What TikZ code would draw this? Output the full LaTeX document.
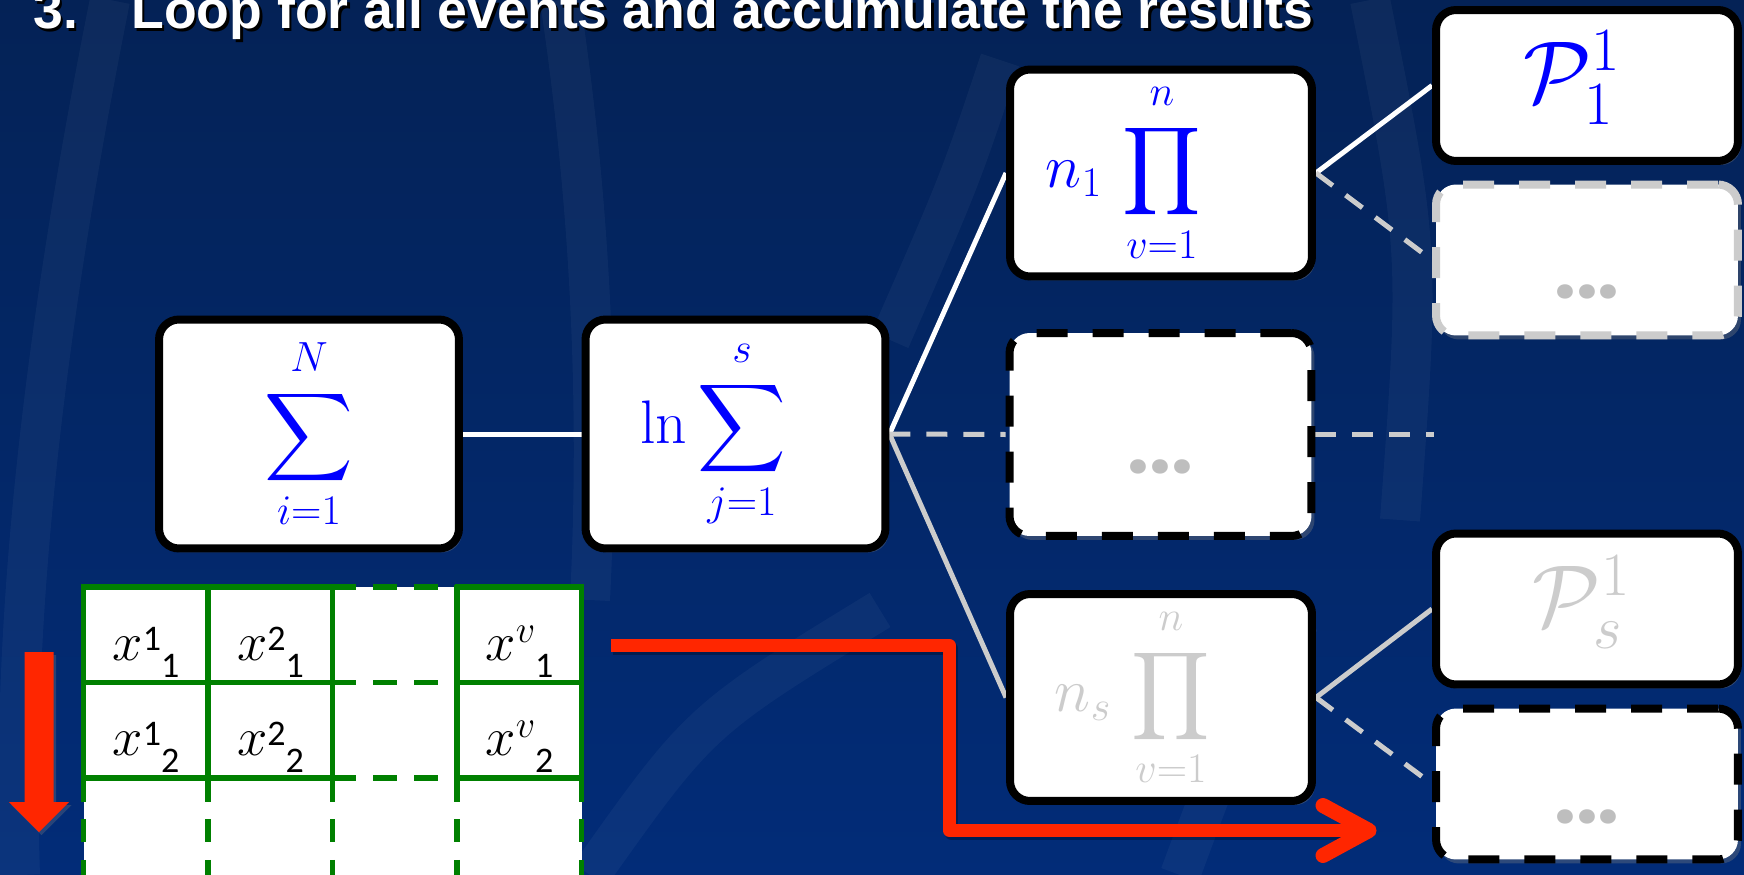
\documentclass[tikz,border=0pt]{standalone}
\usepackage{fix-cm}
\usepackage{exscale}
\DeclareFontShape{OMX}{cmex}{m}{n}{<-> cmex10}{}
\usepackage{fontspec}
\newfontfamily\titlefont{Liberation Sans}
\newfontfamily\dotfont{Poppins}
\newfontfamily\carlito{Carlito}
\usetikzlibrary{calc,shadows}
\DeclareMathSizes{35}{35}{24}{17}
\definecolor{bgtop}{RGB}{4,34,86}
\definecolor{bgbot}{RGB}{2,44,120}
\definecolor{mathblue}{RGB}{0,0,255}
\definecolor{fadegrey}{RGB}{204,204,204}
\definecolor{dotgrey}{RGB}{190,190,190}
\definecolor{tabgreen}{RGB}{0,128,0}
\definecolor{arrred}{RGB}{255,38,0}
\pgfdeclarelayer{bg}
\pgfdeclarelayer{lines}
\pgfsetlayers{bg,lines,main}
\newcommand\bigmath{\fontsize{35}{42}\selectfont}
\newcommand\hugemath{\fontsize{50}{58}\selectfont}
\newcommand\cellfont{\fontsize{31}{36}\selectfont}
\newcommand\digitfont{\carlito\fontsize{20.5}{24}\selectfont}
\newcommand\upl[1]{#1\rule[-0.2cm]{0pt}{0.2cm}}
\newcommand\shadowed[1]{\makebox[0pt][l]{\hspace{0.05cm}\raisebox{-0.05cm}{\color{black}#1}}#1}
\newcommand\xcell[2]{$x$\raisebox{0.2cm}{#1}\raisebox{-0.34cm}{\digitfont #2}}
\tikzset{
  procbox/.style={draw=black, fill=white, line width=0.16cm, rounded corners=0.4cm,
    minimum width=6.04cm, minimum height=4.14cm, inner sep=0pt, text=mathblue,
    font=\bigmath, drop shadow={shadow xshift=0.06cm, shadow yshift=-0.08cm, opacity=0.35}},
  leafbox/.style={procbox, minimum height=3.02cm, font=\hugemath},
  boxdash/.style={dash pattern=on 0.62cm off 0.5cm},
  conn/.style={line width=0.1cm, draw=white},
  connfaint/.style={line width=0.1cm, draw=fadegrey},
  conndash/.style={line width=0.1cm, draw=fadegrey, dash pattern=on 0.42cm off 0.32cm},
  dots/.style={text=dotgrey, font=\dotfont\bfseries\fontsize{44}{50}\selectfont, inner sep=0pt, anchor=base},
  titletext/.style={text=white, font=\titlefont\bfseries\fontsize{30.5}{36}\selectfont, inner sep=0pt, anchor=base west},
  gridsolid/.style={draw=tabgreen, line width=0.11cm},
  griddash/.style={draw=tabgreen, line width=0.11cm, dash pattern=on 0.47cm off 0.35cm},
  cell/.style={inner sep=0pt, anchor=base, font=\cellfont},
  redline/.style={draw=arrred, line width=0.26cm, line join=round},
  redhead/.style={draw=arrred, line width=0.3cm, line join=round, line cap=round},
  redshadow/.style={draw=black, opacity=0.3, line width=0.26cm, line join=round},
  band/.style={draw=white, opacity=0.04, line width=0.8cm}
}
\begin{document}
\begin{tikzpicture}[x=0.02cm,y=-0.02cm]
\useasboundingbox (0,0) rectangle (1744,875);
% background
\begin{pgfonlayer}{bg}
\shade[top color=bgtop, bottom color=bgbot] (0,0) rectangle (1744,875);
\draw[band] (110,0) .. controls (50,300) and (10,600) .. (20,875);
\draw[band] (560,0) .. controls (590,200) and (600,400) .. (590,600);
\draw[band] (1000,60) .. controls (960,180) .. (890,340);
\draw[band] (590,875) .. controls (700,720) .. (880,610);
\draw[band] (1370,0) .. controls (1420,250) .. (1400,520);
\draw[band] (1180,875) .. controls (1230,740) .. (1300,620);
\end{pgfonlayer}

% title
\node[titletext] (tnum) at (33,29) {\shadowed{3.}};
\node[titletext] (ttext) at (131,29) {\shadowed{Loop for all events and accumulate the results}};

% boxes
\node[procbox, minimum width=6.0cm, minimum height=4.58cm] (A) at (309,434) {$\displaystyle\sum_{i=1}^{\upl{N}}$};
\node[procbox, minimum width=6.0cm, minimum height=4.58cm] (B) at (735.5,434) {$\displaystyle\ln\sum_{j=1}^{\upl{s}}$\hspace*{0.88cm}};
\node[procbox] (C) at (1161,173) {$\displaystyle n_1\,\prod_{v=1}^{\upl{n}}$\hspace*{1.5cm}};
\node[procbox, boxdash, minimum height=4.06cm] (D) at (1160.5,434.5) {};
\node[procbox, text=fadegrey] (E) at (1161,697.5) {$\displaystyle n_s\,\prod_{v=1}^{\upl{n}}$\hspace*{1.14cm}};
\node[leafbox] (F) at (1587,85.5) {\raisebox{0.16cm}[\height][\depth]{$\mathcal{P}_1^1$}\hspace*{0.6cm}};
\node[leafbox, boxdash, draw=fadegrey] (G) at (1587,260) {};
\node[leafbox, text=fadegrey] (H) at (1587,609) {\raisebox{0.14cm}[\height][\depth]{$\mathcal{P}_s^1$}\hspace*{0.22cm}};
\node[leafbox, boxdash] (I) at (1587,784) {};
\node[dots] (Ddots) at ($(D.center)+(0,39)$) {...};
\node[dots] (Gdots) at ($(G.center)+(0,38)$) {...};
\node[dots] (Idots) at ($(I.center)+(0,39)$) {...};

% connectors
\coordinate (Dend) at (1434,434.5);
\begin{pgfonlayer}{lines}
\draw[conn] (A) -- (B);
\draw[conn] (B.east) -- (C.west);
\draw[conndash] (B.east) -- (D.west);
\draw[conndash] (D.east) -- (Dend);
\draw[connfaint] (B.east) -- (E.west);
\draw[conn] (C.east) -- (F.west);
\draw[conndash] (C.east) -- (G.west);
\draw[connfaint] (E.east) -- (H.west);
\draw[conndash] (E.east) -- (I.west);
\end{pgfonlayer}

% table
\fill[white] (83.5,587) rectangle (581.5,880);
\foreach \xx in {83.5,208,332.5,457,581.5}{
  \draw[gridsolid] (\xx,584.5) -- (\xx,778);
  \draw[griddash] (\xx,778) -- (\xx,880);
}
\foreach \yy in {587,682.5,778}{
  \draw[gridsolid] (81,\yy) -- (332.5,\yy);
  \draw[griddash] (332.5,\yy) -- (457,\yy);
  \draw[gridsolid] (457,\yy) -- (584,\yy);
}
\node[cell] (c11) at (146,660) {\xcell{\digitfont 1}{1}};
\node[cell] (c12) at (270.5,660) {\xcell{\digitfont 2}{1}};
\node[cell] (c1v) at (519.5,660) {\xcell{\raisebox{0.16cm}{$\scriptstyle v$}}{1}};
\node[cell] (c21) at (146,755.5) {\xcell{\digitfont 1}{2}};
\node[cell] (c22) at (270.5,755.5) {\xcell{\digitfont 2}{2}};
\node[cell] (c2v) at (519.5,755.5) {\xcell{\raisebox{0.16cm}{$\scriptstyle v$}}{2}};

% red arrows
\fill[arrred, drop shadow={shadow xshift=0.05cm, shadow yshift=-0.06cm, opacity=0.3}] (24.5,652) -- (53.5,652) -- (53.5,802) -- (69,802) -- (39,832) -- (9,802) -- (24.5,802) -- cycle;
\coordinate (ra) at (611,645.5);
\coordinate (rb) at (949.3,645.5);
\coordinate (rc) at (949.3,830.5);
\coordinate (rd) at (1362,830.5);
\coordinate (rtip) at (1369,830.5);
\draw[redshadow] ($(ra)+(2,3)$) -- ($(rb)+(2,3)$) -- ($(rc)+(2,3)$) -- ($(rd)+(2,3)$);
\draw[redline] (ra) -- (rb) -- (rc) -- (rd);
\draw[redhead] ($(rtip)+(-46,-25)$) -- (rtip) -- ($(rtip)+(-46,25)$);
\end{tikzpicture}
\end{document}
